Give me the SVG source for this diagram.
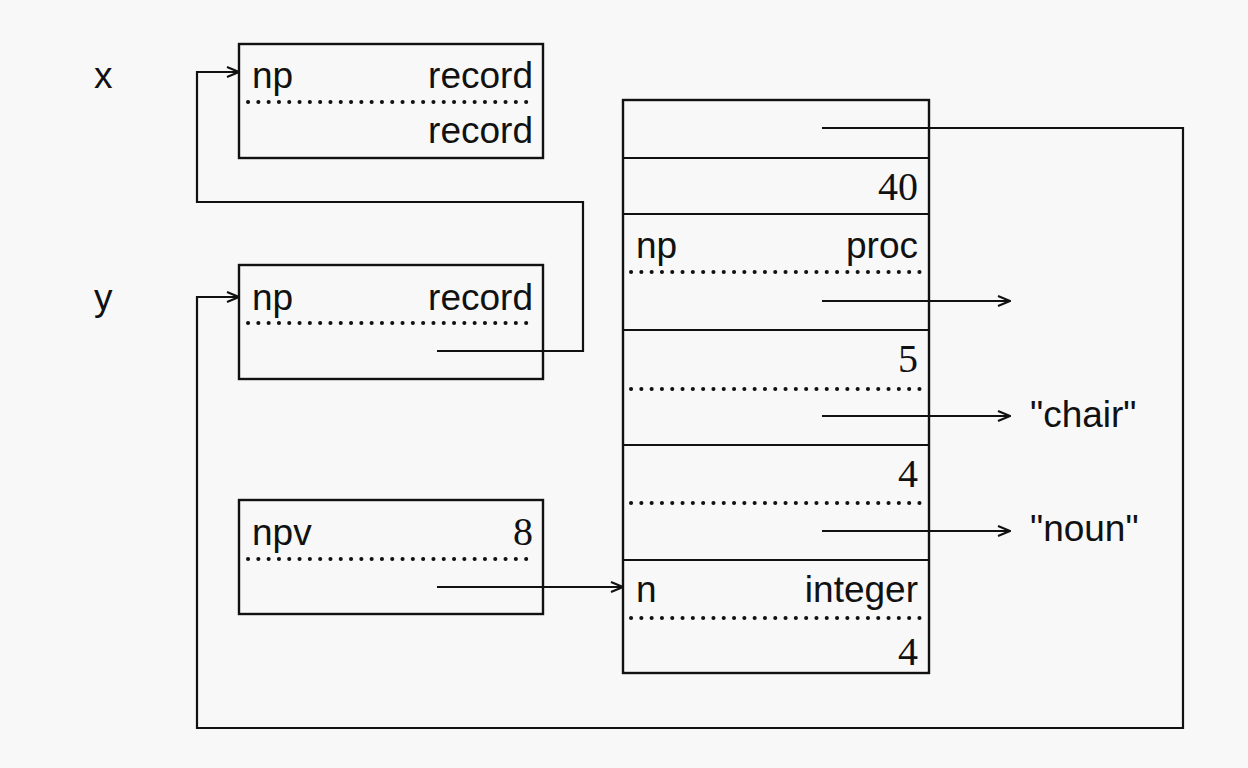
<svg xmlns="http://www.w3.org/2000/svg" width="1248" height="768" viewBox="0 0 1248 768">
<style>
.bg{fill:#f8f8f8}
.box{fill:none;stroke:#111;stroke-width:2.4}
.dot{fill:none;stroke:#111;stroke-width:4;stroke-linecap:round;stroke-dasharray:0.1 10.2}
.ln{fill:none;stroke:#111;stroke-width:2.2}
.s{font-family:"Liberation Sans",Arial,sans-serif;font-size:37px;fill:#111}
.n{font-family:"Liberation Serif","Times New Roman",serif;font-size:40px;fill:#111}
.r{text-anchor:end}
</style>
<defs>
<marker id="ah" markerWidth="14" markerHeight="12" refX="13" refY="6" orient="auto" markerUnits="userSpaceOnUse">
<path d="M1,1 L13,6 L1,11" fill="none" stroke="#111" stroke-width="2"/>
</marker>
</defs>
<rect class="bg" x="0" y="0" width="1248" height="768"/>
<text class="s" x="94" y="88">x</text>
<text class="s" x="94" y="310">y</text>
<g id="boxX">
<rect class="box" x="239" y="44" width="304" height="114"/>
<line class="dot" x1="248" y1="102" x2="534" y2="102"/>
<text class="s" x="252" y="88">np</text>
<text class="s r" x="533" y="88">record</text>
<text class="s r" x="533" y="143">record</text>
</g>
<g id="boxY">
<rect class="box" x="239" y="265" width="304" height="114"/>
<line class="dot" x1="248" y1="323" x2="534" y2="323"/>
<text class="s" x="252" y="310">np</text>
<text class="s r" x="533" y="310">record</text>
</g>
<g id="boxNpv">
<rect class="box" x="239" y="500" width="304" height="114"/>
<line class="dot" x1="248" y1="559" x2="534" y2="559"/>
<text class="s" x="252" y="545">npv</text>
<text class="n r" x="533" y="545">8</text>
</g>
<g id="stack">
<rect class="box" x="623" y="100" width="306" height="573"/>
<line class="ln" x1="623" y1="158" x2="929" y2="158"/>
<line class="ln" x1="623" y1="214" x2="929" y2="214"/>
<line class="ln" x1="623" y1="330" x2="929" y2="330"/>
<line class="ln" x1="623" y1="445" x2="929" y2="445"/>
<line class="ln" x1="623" y1="560" x2="929" y2="560"/>
<text class="n r" x="918" y="200">40</text>
<text class="s" x="636" y="258">np</text>
<text class="s r" x="918" y="258">proc</text>
<line class="dot" x1="631" y1="272" x2="920" y2="272"/>
<text class="n r" x="918" y="372">5</text>
<line class="dot" x1="631" y1="389" x2="920" y2="389"/>
<text class="n r" x="918" y="487">4</text>
<line class="dot" x1="631" y1="503" x2="920" y2="503"/>
<text class="s" x="636" y="602">n</text>
<text class="s r" x="918" y="602">integer</text>
<line class="dot" x1="631" y1="618" x2="920" y2="618"/>
<text class="n r" x="918" y="665">4</text>
</g>
<g id="strings">
<text class="s" x="1030" y="427">"chair"</text>
<text class="s" x="1030" y="541">"noun"</text>
</g>
<g id="connectors">
<path class="ln" d="M437,351 H583 V202 H197 V72 H239" marker-end="url(#ah)"/>
<path class="ln" d="M822,128 H1183 V728 H197 V297 H239" marker-end="url(#ah)"/>
<path class="ln" d="M437,587 H623" marker-end="url(#ah)"/>
<path class="ln" d="M822,301 H1010" marker-end="url(#ah)"/>
<path class="ln" d="M822,416 H1010" marker-end="url(#ah)"/>
<path class="ln" d="M822,531 H1010" marker-end="url(#ah)"/>
</g>
</svg>
